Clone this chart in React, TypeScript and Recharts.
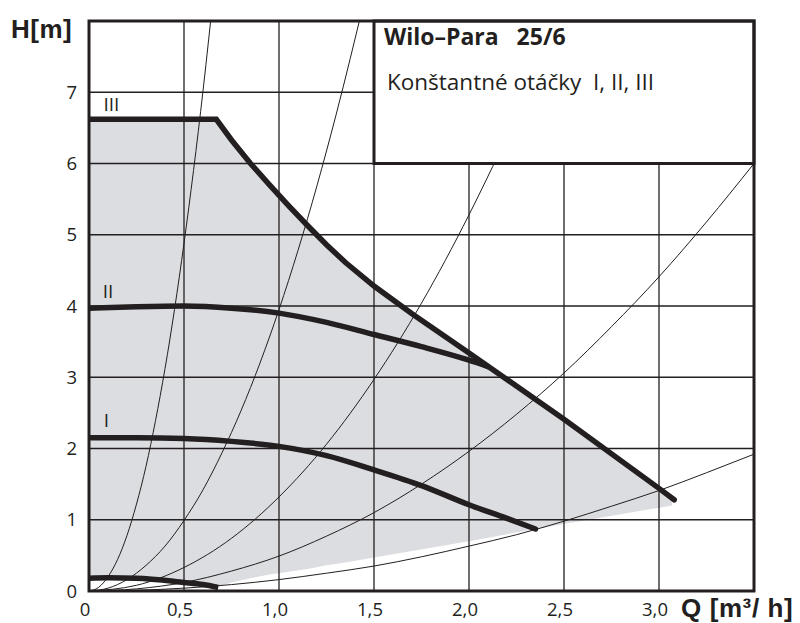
import React from "react";
import {
  ComposedChart,
  Line,
  Area,
  XAxis,
  YAxis,
  CartesianGrid,
  ReferenceArea,
  ReferenceDot,
  Label,
} from "recharts";

const INK = "#231f20";
const GRAY = "#dcdde0";
const FONT = "'Open Sans', 'Noto Sans', sans-serif";
const BOLD = "'Liberation Sans', Arial, sans-serif";

const Q_TICKS = [0, 0.5, 1, 1.5, 2, 2.5, 3];
const H_TICKS = [0, 1, 2, 3, 4, 5, 6, 7];

// pump curves (speed III, II, I and the lowest stage)
const q3 = [0, 0.67, 0.75, 0.85, 0.95, 1.05, 1.15, 1.25, 1.35, 1.5, 1.7, 2.0, 2.5, 3.0, 3.08];
const h3 = [6.62, 6.62, 6.33, 6.0, 5.7, 5.41, 5.13, 4.86, 4.61, 4.28, 3.89, 3.34, 2.41, 1.44, 1.28];

const q2 = [0, 0.25, 0.5, 0.75, 1.0, 1.25, 1.5, 1.75, 2.0, 2.1];
const h2 = [3.97, 3.99, 4.0, 3.97, 3.9, 3.77, 3.6, 3.43, 3.24, 3.15];

const q1 = [0, 0.25, 0.5, 0.75, 1.0, 1.25, 1.5, 1.75, 2.0, 2.2, 2.35];
const h1 = [2.15, 2.15, 2.14, 2.1, 2.03, 1.9, 1.7, 1.48, 1.21, 1.02, 0.87];

const q0 = [0, 0.1, 0.25, 0.5, 0.6, 0.68];
const h0 = [0.18, 0.185, 0.18, 0.12, 0.09, 0.05];

// shaded working range
const grayQ = [0, 0.25, 0.5, 0.67, 0.68, 0.75, 0.85, 0.95, 1.05, 1.15, 1.25, 1.35, 1.5, 1.7, 2.0, 2.5, 3.0, 3.07];
const grayLow = [0.18, 0.18, 0.12, 0.06, 0.06, 0.12, 0.18, 0.23, 0.27, 0.31, 0.36, 0.4, 0.47, 0.56, 0.7, 0.94, 1.17, 1.2];
const grayHigh = [6.62, 6.62, 6.62, 6.62, 6.58, 6.33, 6.0, 5.7, 5.41, 5.13, 4.86, 4.61, 4.28, 3.89, 3.34, 2.41, 1.44, 1.3];

// system curves (thin)
const qA = [0, 0.05, 0.1, 0.15, 0.2, 0.25, 0.3, 0.35, 0.4, 0.45, 0.5, 0.55, 0.6, 0.66];
const hA = [0, 0.05, 0.2, 0.44, 0.78, 1.22, 1.75, 2.39, 3.12, 3.95, 4.88, 5.9, 7.02, 8.5];

const qB = [0, 0.1, 0.2, 0.3, 0.4, 0.5, 0.6, 0.7, 0.8, 0.9, 1.0, 1.1, 1.2, 1.3, 1.45];
const hB = [0, 0.04, 0.16, 0.36, 0.63, 0.99, 1.42, 1.94, 2.53, 3.2, 3.95, 4.78, 5.69, 6.68, 8.3];

const qC = [0, 0.25, 0.5, 0.75, 1.0, 1.25, 1.5, 1.75, 2.0, 2.25, 2.5];
const hC = [0, 0.08, 0.33, 0.74, 1.32, 2.06, 2.97, 4.04, 5.28, 6.68, 8.25];

const qD = [0, 0.25, 0.5, 0.75, 1.0, 1.25, 1.5, 1.75, 2.0, 2.25, 2.5, 2.75, 3.0, 3.25, 3.5];
const hD = [0, 0.03, 0.12, 0.28, 0.49, 0.77, 1.1, 1.5, 1.96, 2.48, 3.06, 3.71, 4.41, 5.18, 6.0];

const qE = [0, 0.25, 0.5, 0.75, 1.0, 1.25, 1.5, 1.75, 2.0, 2.25, 2.5, 2.75, 3.0, 3.25, 3.5];
const hE = [0, 0.01, 0.04, 0.09, 0.16, 0.25, 0.35, 0.48, 0.63, 0.79, 0.98, 1.19, 1.41, 1.66, 1.92];

const zip = (q: number[], h: number[]) => q.map((v, i) => ({ q: v, h: h[i] }));

const grayData = grayQ.map((v, i) => ({ q: v, range: [grayLow[i], grayHigh[i]] }));
const systemCurves = [zip(qA, hA), zip(qB, hB), zip(qC, hC), zip(qD, hD), zip(qE, hE)];

const fmtQ = (v: number) => (v === 0 ? "0" : v.toFixed(1).replace(".", ","));

const BoxText = (props: any) => {
  const { x, y } = props.viewBox;
  return (
    <g fill={INK} fontFamily={FONT}>
      <text x={x + 10} y={y + 24} fontSize={23} fontWeight={700} style={{ whiteSpace: "pre" }}>
        {"Wilo–Para   25/6"}
      </text>
      <text x={x + 13} y={y + 69} fontSize={22.5} style={{ whiteSpace: "pre" }}>
        {"Konštantné otáčky  I, II, III"}
      </text>
    </g>
  );
};

const speedLabels = [
  { q: 0.118, h: 6.83, text: "III" },
  { q: 0.1, h: 4.2, text: "II" },
  { q: 0.092, h: 2.4, text: "I" },
];

export default function App() {
  return (
    <div style={{ position: "absolute", left: 0, top: 0, width: 800, height: 623, background: "#fff" }}>
      <ComposedChart width={800} height={623} margin={{ top: 21, right: 46, left: 0, bottom: 0 }}>
        <Area
          data={grayData}
          dataKey="range"
          type="linear"
          fill={GRAY}
          fillOpacity={1}
          stroke="none"
          isAnimationActive={false}
          zIndex={-200}
        />
        <CartesianGrid stroke={INK} strokeWidth={1.3} />
        <XAxis
          dataKey="q"
          type="number"
          domain={[0, 3.5]}
          ticks={Q_TICKS}
          tickFormatter={fmtQ}
          axisLine={false}
          tickLine={false}
          tickSize={0}
          tickMargin={12}
          height={32}
          tick={{ fill: INK, fontSize: 18.5, fontFamily: FONT, dx: -4 }}
          allowDataOverflow
        />
        <YAxis
          type="number"
          domain={[0, 8]}
          ticks={H_TICKS}
          axisLine={false}
          tickLine={false}
          tickSize={0}
          tickMargin={12}
          width={89}
          tick={{ fill: INK, fontSize: 18.5, fontFamily: FONT }}
          allowDataOverflow
        />
        {systemCurves.map((d, i) => (
          <Line
            key={i}
            data={d}
            dataKey="h"
            type="monotone"
            stroke={INK}
            strokeWidth={1}
            dot={false}
            isAnimationActive={false}
          />
        ))}
        <Line data={zip(q0, h0)} dataKey="h" type="monotone" stroke={INK} strokeWidth={5.5} dot={false} isAnimationActive={false} />
        <Line data={zip(q1, h1)} dataKey="h" type="monotone" stroke={INK} strokeWidth={5.5} strokeLinecap="round" dot={false} isAnimationActive={false} />
        <Line data={zip(q2, h2)} dataKey="h" type="monotone" stroke={INK} strokeWidth={5.5} strokeLinecap="round" dot={false} isAnimationActive={false} />
        <Line data={zip(q3, h3)} dataKey="h" type="linear" stroke={INK} strokeWidth={5.5} strokeLinecap="round" strokeLinejoin="miter" dot={false} isAnimationActive={false} />
        {speedLabels.map((s) => (
          <ReferenceDot key={s.text} x={s.q} y={s.h} r={0} fill="none" stroke="none">
            <Label value={s.text} position="center" fill={INK} fontSize={19} fontFamily={FONT} />
          </ReferenceDot>
        ))}
        <ReferenceArea x1={1.5} x2={3.5} y1={6} y2={8} fill="#fff" fillOpacity={1} stroke={INK} strokeWidth={3} zIndex={1500}>
          <Label content={BoxText} />
        </ReferenceArea>
        <ReferenceArea x1={0} x2={3.5} y1={0} y2={8} fill="none" stroke={INK} strokeWidth={3} zIndex={1600} />
      </ComposedChart>
      <svg width={800} height={623} style={{ position: "absolute", left: 0, top: 0, pointerEvents: "none" }}>
        <text x={11} y={38} fontSize={26} fontWeight={700} fill={INK} fontFamily={BOLD} letterSpacing={0.5}>
          H[m]
        </text>
        <text x={681} y={617} fontSize={26} fontWeight={700} fill={INK} fontFamily={BOLD} letterSpacing={0.6} style={{ whiteSpace: "pre" }}>
          {"Q [m³/ h]"}
        </text>
      </svg>
    </div>
  );
}
